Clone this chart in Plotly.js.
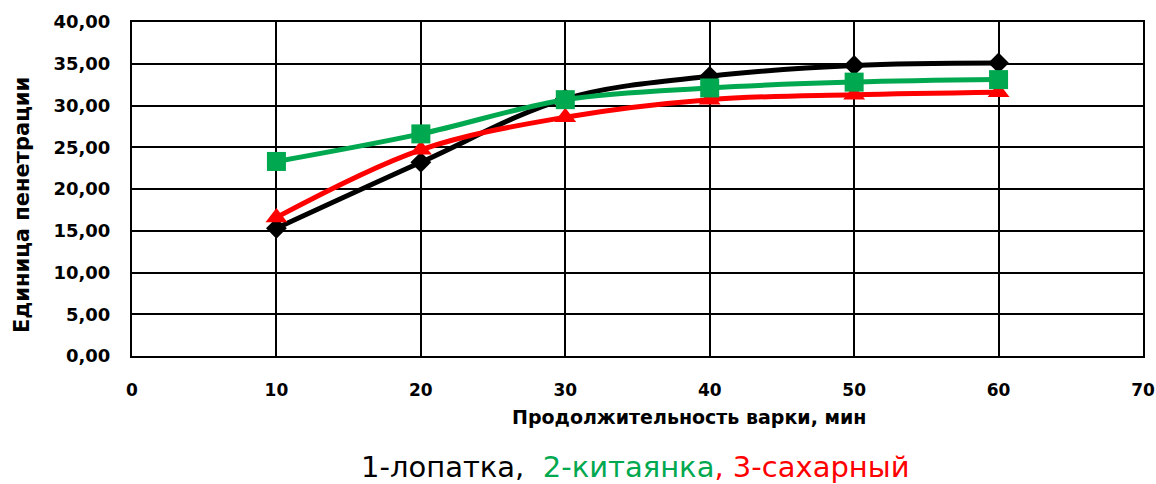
<!DOCTYPE html>
<html><head><meta charset="utf-8">
<script src="https://cdn.plot.ly/plotly-3.0.1.min.js"></script>
<style>html,body{margin:0;padding:0;background:#fff}#chart{width:1156px;height:484px}</style>
</head><body><div id="chart"></div>
<script>
const minutes = [10, 20, 30, 40, 50, 60];
const lopatka = [15.3, 23.2, 30.8, 33.5, 34.8, 35.1];
const kitayanka = [23.3, 26.6, 30.7, 32.1, 32.8, 33.1];
const sakharny = [16.6, 24.7, 28.6, 30.7, 31.3, 31.6];
const yTickVals = [0, 5, 10, 15, 20, 25, 30, 35, 40];
const yTickText = ['0,00','5,00','10,00','15,00','20,00','25,00','30,00','35,00','40,00'];
const xTickVals = [0, 10, 20, 30, 40, 50, 60, 70];

const font = "'DejaVu Sans', sans-serif";
const traces = [
  {x: minutes, y: lopatka, mode: 'lines+markers', name: '1-лопатка',
   line: {color: '#000000', width: 5, shape: 'spline'},
   marker: {symbol: 'diamond', size: 16, color: '#000000'}},
  {x: minutes, y: sakharny, mode: 'lines+markers', name: '3-сахарный',
   line: {color: '#ff0000', width: 5, shape: 'spline'},
   marker: {symbol: 'triangle-up', size: 19, color: '#ff0000'}},
  {x: minutes, y: kitayanka, mode: 'lines+markers', name: '2-китаянка',
   line: {color: '#00a84f', width: 5, shape: 'spline'},
   marker: {symbol: 'square', size: 19, color: '#00a84f'}}
];
const layout = {
  width: 1156, height: 484,
  margin: {l: 132, r: 13, t: 22, b: 128},
  paper_bgcolor: '#fff', plot_bgcolor: '#fff',
  showlegend: false,
  font: {family: font, color: '#000'},
  xaxis: {range: [0, 70], tickvals: xTickVals, ticks: '', showgrid: true, gridcolor: '#000', gridwidth: 2,
    zeroline: false, showline: true, linecolor: '#000', linewidth: 2, mirror: true,
    tickfont: {size: 17, family: font, color: '#000', weight: 'bold'}, ticklabelstandoff: 18},
  yaxis: {range: [0, 40], tickvals: yTickVals, ticktext: yTickText, ticks: '', showgrid: true, gridcolor: '#000', gridwidth: 2,
    zeroline: false, showline: true, linecolor: '#000', linewidth: 2, mirror: true,
    tickfont: {size: 18, family: font, color: '#000', weight: 'bold'}, ticklabelstandoff: 16},
  annotations: [
    {xref: 'paper', yref: 'paper', x: (689 - 132) / 1011, y: (356 - 417) / 334, xanchor: 'center', yanchor: 'middle', showarrow: false,
     text: '<b>Продолжительность варки, мин</b>', font: {size: 19, family: font, color: '#000'}},
    {xref: 'paper', yref: 'paper', x: (22 - 132) / 1011, y: (356 - 205) / 334, xanchor: 'center', yanchor: 'middle', showarrow: false,
     textangle: -90, text: '<b>Единица пенетрации</b>', font: {size: 21, family: font, color: '#000'}},
    {xref: 'paper', yref: 'paper', x: (635 - 132) / 1011, y: (356 - 467) / 334, xanchor: 'center', yanchor: 'middle', showarrow: false,
     text: '<span style="color:#000">1-лопатка, </span> <span style="color:#00a84f">2-китаянка</span><span style="color:#ff0000">, 3-сахарный</span>',
     font: {size: 29, family: font}}
  ]
};
Plotly.newPlot('chart', traces, layout, {displayModeBar: false, staticPlot: true});
</script></body></html>
